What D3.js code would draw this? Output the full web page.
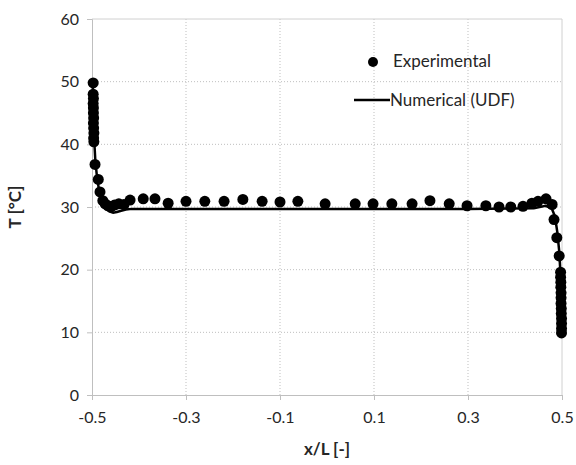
<!DOCTYPE html>
<html>
<head>
<meta charset="utf-8">
<script src="https://cdn.jsdelivr.net/npm/d3@7"></script>
<style>
  body { margin: 0; background: #fff; }
  text { font-family: Lato, "Open Sans", sans-serif; fill: #262626; }
</style>
</head>
<body>
<svg width="576" height="465"></svg>
<script>
// experimental points (x/L, T)
const expX = [-0.4975, -0.4975, -0.497, -0.4975, -0.497, -0.497, -0.4965, -0.497, -0.4965, -0.496, -0.4965, -0.496,
  -0.4936, -0.4866, -0.483, -0.477, -0.472, -0.466, -0.46, -0.452, -0.443, -0.432, -0.419, -0.391, -0.366, -0.338,
  -0.300, -0.260, -0.219, -0.179, -0.138, -0.100, -0.062, -0.004, 0.060, 0.098, 0.138, 0.181, 0.219, 0.260, 0.298,
  0.338, 0.366, 0.391, 0.417, 0.436, 0.449, 0.466, 0.479, 0.483, 0.489, 0.494,
  0.497, 0.497, 0.4975, 0.4975, 0.498, 0.498, 0.498, 0.4985, 0.4985, 0.499, 0.499, 0.499, 0.499];
const expT = [49.8, 48.0, 47.3, 46.5, 45.8, 45.0, 44.2, 43.4, 42.6, 41.8, 41.0, 40.4,
  36.8, 34.4, 32.4, 31.0, 30.5, 30.2, 30.0, 30.3, 30.5, 30.4, 31.1, 31.3, 31.3, 30.6,
  30.9, 30.9, 30.9, 31.2, 30.9, 30.8, 30.9, 30.5, 30.5, 30.5, 30.5, 30.5, 31.0, 30.5, 30.2,
  30.2, 30.0, 30.0, 30.1, 30.6, 30.9, 31.3, 30.4, 28.0, 25.1, 22.2,
  19.6, 18.8, 18.0, 17.2, 16.3, 15.5, 14.6, 13.8, 13.0, 12.2, 11.4, 10.6, 9.9];

// numerical (UDF) line
const numX = [-0.4985, -0.497, -0.4955, -0.493, -0.489, -0.484, -0.478, -0.471, -0.463, -0.455, -0.447, -0.438, -0.428, -0.415,
  -0.3, 0, 0.3, 0.44, 0.465, 0.478, 0.485, 0.49, 0.494, 0.497, 0.4985];
const numT = [50.0, 45.0, 41.0, 37.5, 34.5, 32.3, 30.8, 29.8, 29.3, 29.1, 29.2, 29.4, 29.6, 29.7,
  29.7, 29.7, 29.7, 29.8, 30.2, 29.8, 28.5, 26.0, 23.0, 19.0, 10.0];

const xTicks = [-0.5, -0.3, -0.1, 0.1, 0.3, 0.5];
const yTicks = [0, 10, 20, 30, 40, 50, 60];

const svg = d3.select("svg");
const pLeft = 92, pRight = 562, pTop = 19, pBottom = 395;

const x = d3.scaleLinear().domain([-0.5, 0.5]).range([pLeft, pRight]);
const y = d3.scaleLinear().domain([0, 60]).range([pBottom, pTop]);

// grid lines
svg.append("g").selectAll("line")
  .data(yTicks.slice(1, -1))
  .enter().append("line")
  .attr("x1", pLeft).attr("x2", pRight)
  .attr("y1", d => y(d)).attr("y2", d => y(d))
  .attr("stroke", "#bfbfbf").attr("stroke-dasharray", "1,2");
svg.append("g").selectAll("line")
  .data(xTicks.slice(1, -1))
  .enter().append("line")
  .attr("y1", pTop).attr("y2", pBottom)
  .attr("x1", d => x(d)).attr("x2", d => x(d))
  .attr("stroke", "#bfbfbf").attr("stroke-dasharray", "1,2");

// top and right border
svg.append("line").attr("x1", pLeft).attr("x2", pRight).attr("y1", pTop).attr("y2", pTop)
  .attr("stroke", "#d0d0d0");
svg.append("line").attr("x1", pRight).attr("x2", pRight).attr("y1", pTop).attr("y2", pBottom)
  .attr("stroke", "#d0d0d0");

// axes
const xAxis = svg.append("g")
  .attr("transform", `translate(0,${pBottom})`)
  .call(d3.axisBottom(x).tickValues(xTicks).tickFormat(d => d.toFixed(1)).tickSize(5).tickPadding(12));
const yAxis = svg.append("g")
  .attr("transform", `translate(${pLeft},0)`)
  .call(d3.axisLeft(y).tickValues(yTicks).tickSize(5).tickPadding(8));
[xAxis, yAxis].forEach(a => {
  a.select(".domain").attr("stroke", "#bfbfbf");
  a.selectAll(".tick line").attr("stroke", "#bfbfbf");
  a.selectAll("text").style("font-size", "16px").attr("fill", "#262626").style("font-family", "Lato, sans-serif");
});

// numerical line
const line = d3.line().x(d => x(d[0])).y(d => y(d[1]));
svg.append("path")
  .datum(numX.map((v, i) => [v, numT[i]]))
  .attr("d", line)
  .attr("fill", "none")
  .attr("stroke", "#000")
  .attr("stroke-width", 2.5);

// experimental points
svg.append("g").selectAll("circle")
  .data(expX.map((v, i) => [v, expT[i]]))
  .enter().append("circle")
  .attr("cx", d => x(d[0]))
  .attr("cy", d => y(d[1]))
  .attr("r", 5.5)
  .attr("fill", "#000");

// legend
svg.append("circle").attr("cx", 373).attr("cy", 62).attr("r", 5).attr("fill", "#000");
svg.append("text").attr("x", 393).attr("y", 67).style("font-size", "17px").text("Experimental");
svg.append("line").attr("x1", 354).attr("x2", 390).attr("y1", 100).attr("y2", 100)
  .attr("stroke", "#000").attr("stroke-width", 2.5);
svg.append("text").attr("x", 390).attr("y", 106).style("font-size", "17px").text("Numerical (UDF)");

// axis titles
svg.append("text")
  .attr("x", (pLeft + pRight) / 2).attr("y", 455)
  .attr("text-anchor", "middle")
  .style("font-size", "17px").style("font-weight", "bold")
  .text("x/L [-]");
svg.append("text")
  .attr("transform", `translate(21,${(pTop + pBottom) / 2}) rotate(-90)`)
  .attr("text-anchor", "middle")
  .style("font-size", "17px").style("font-weight", "bold")
  .text("T [°C]");
</script>
</body>
</html>
